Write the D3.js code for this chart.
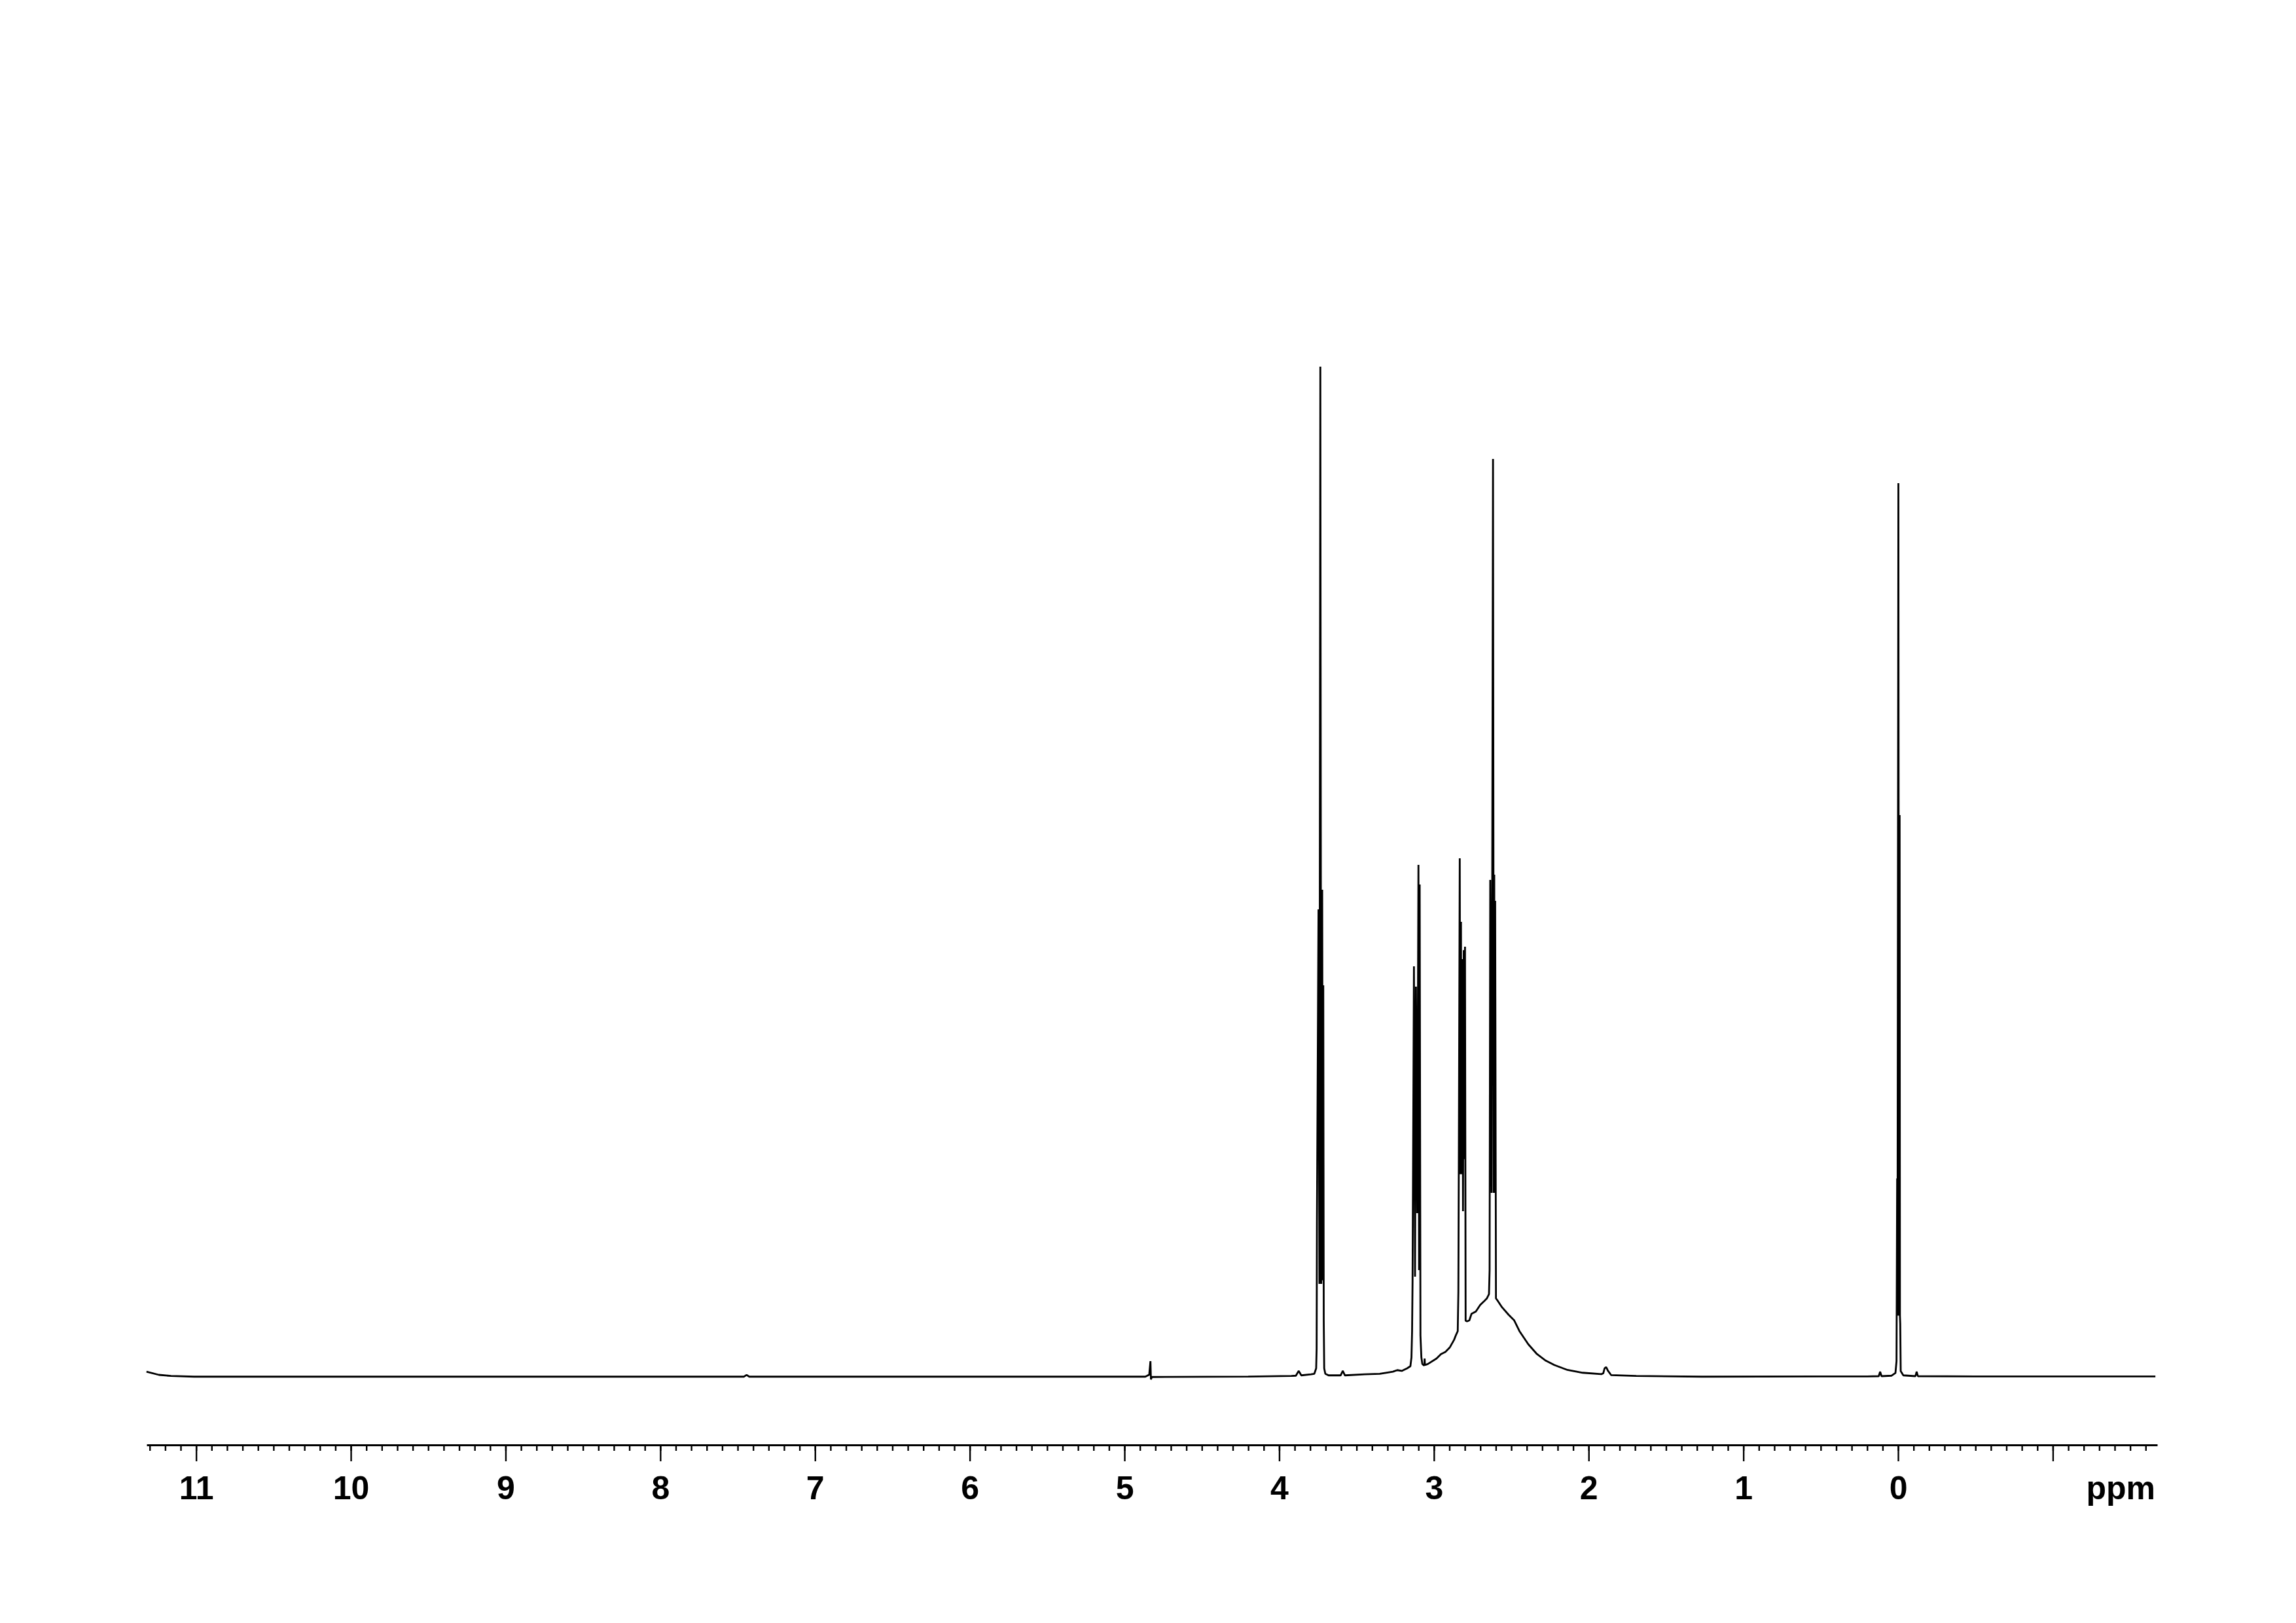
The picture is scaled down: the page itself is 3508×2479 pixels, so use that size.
<!DOCTYPE html>
<html>
<head>
<meta charset="utf-8">
<script src="https://cdn.jsdelivr.net/npm/d3@7"></script>
<style>
  html, body { margin: 0; padding: 0; background: #ffffff; }
  svg { display: block; }
</style>
</head>
<body>
<svg id="chart" width="3508" height="2479"></svg>
<script>
// ---- Data: [chemical shift (ppm), relative intensity (% of tallest line)] ----
const segBaselineLeft = [
  [11.321, 0.45], [11.240, 0.13], [11.162, 0.02], [11.014, -0.05], [9.000, -0.05],
  [7.460, -0.05], [7.442, 0.12], [7.425, -0.05], [4.865, -0.05], [4.840, 0.15],
  [4.832, 1.49], [4.829, -0.32], [4.823, -0.08], [4.200, -0.04], [3.921, 0.02],
  [3.892, 0.05], [3.874, 0.52], [3.857, 0.08], [3.794, 0.18], [3.773, 0.24]
];
const segMultipletA = [
  [3.761, 0.78], [3.758, 2.72], [3.756, 15.26], [3.746, 46.24], [3.740, 9.14],
  [3.734, 100.0], [3.728, 9.14], [3.722, 48.18], [3.718, 9.5], [3.715, 38.72],
  [3.712, 5.53], [3.709, 0.78], [3.702, 0.24], [3.681, 0.08]
];
const segBetweenAB = [
  [3.603, 0.08], [3.589, 0.52], [3.575, 0.08], [3.448, 0.18], [3.350, 0.24],
  [3.265, 0.45], [3.237, 0.60], [3.208, 0.52], [3.173, 0.78], [3.152, 0.99]
];
const segMultipletB = [
  [3.145, 1.86], [3.141, 4.47], [3.138, 9.40], [3.129, 40.60], [3.122, 9.86],
  [3.116, 38.59], [3.108, 16.15], [3.100, 50.65], [3.096, 10.51], [3.092, 48.70],
  [3.087, 4.02], [3.081, 1.86], [3.075, 1.21], [3.062, 1.05], [3.060, 1.75], [3.058, 1.10]
];
const segBetweenBC = [
  [3.039, 1.21], [2.983, 1.75], [2.954, 2.19], [2.926, 2.40], [2.898, 2.83],
  [2.870, 3.59], [2.856, 4.13]
];
const segMultipletC = [
  [2.846, 4.46], [2.842, 8.37], [2.839, 21.53], [2.833, 51.30], [2.829, 20.0],
  [2.825, 45.01], [2.822, 20.0], [2.816, 41.31], [2.812, 16.34], [2.807, 42.2],
  [2.803, 21.5], [2.799, 42.54], [2.795, 5.5], [2.786, 5.43]
];
const segBetweenCD = [
  [2.771, 5.53], [2.757, 6.18], [2.729, 6.40], [2.701, 7.05], [2.679, 7.37],
  [2.658, 7.70], [2.644, 8.13]
];
const segMultipletD = [
  [2.640, 10.51], [2.636, 49.16], [2.627, 18.16], [2.618, 90.86], [2.613, 18.16],
  [2.610, 49.68], [2.607, 18.16], [2.604, 47.08], [2.599, 7.70], [2.588, 7.48]
];
const segTail = [
  [2.560, 6.83], [2.517, 6.08], [2.482, 5.55], [2.447, 4.46], [2.390, 3.16],
  [2.334, 2.19], [2.277, 1.54], [2.221, 1.10], [2.137, 0.62], [2.038, 0.34],
  [1.918, 0.20], [1.905, 0.30], [1.897, 0.78], [1.886, 0.89], [1.876, 0.56],
  [1.854, 0.10], [1.692, 0.02], [1.269, -0.05], [0.500, -0.03]
];
const segTMS = [
  [0.200, -0.02], [0.125, 0.0], [0.116, 0.45], [0.107, 0.0], [0.042, 0.05],
  [0.017, 0.32], [0.010, 1.5], [0.006, 19.58], [0.004, 6.0], [-0.002, 88.46],
  [-0.006, 6.0], [-0.010, 55.58], [-0.012, 6.0], [-0.014, 5.19], [-0.017, 0.5],
  [-0.034, 0.08], [-0.112, 0.0], [-0.120, 0.45], [-0.128, 0.0], [-0.500, -0.02],
  [-1.663, -0.02]
];

const majorTicks = [11, 10, 9, 8, 7, 6, 5, 4, 3, 2, 1, 0, -1];
const tickLabels = ["11", "10", "9", "8", "7", "6", "5", "4", "3", "2", "1", "0", ""];
const minorTicks = d3.range(113, -17, -1).map(v => v / 10);
const axisUnit = "ppm";

// ---- Drawing ----
const svg = d3.select("#chart");
svg.append("rect").attr("width", 3508).attr("height", 2479).attr("fill", "#ffffff");

const x = d3.scaleLinear().domain([11.32, -1.675]).range([224, 3296]);
const y = d3.scaleLinear().domain([0, 100]).range([2102, 560]);

const spectrum = [].concat(segBaselineLeft, segMultipletA, segBetweenAB, segMultipletB,
  segBetweenBC, segMultipletC, segBetweenCD, segMultipletD, segTail, segTMS);

svg.append("path")
  .datum(spectrum)
  .attr("d", d3.line().x(d => x(d[0])).y(d => y(d[1])))
  .attr("fill", "none")
  .attr("stroke", "#000")
  .attr("stroke-width", 2.8)
  .attr("stroke-linejoin", "bevel");

const axisY = 2207;

// minor ticks + axis line
const gMinor = svg.append("g").attr("transform", `translate(0,${axisY})`)
  .call(d3.axisBottom(x).tickValues(minorTicks).tickSize(9).tickSizeOuter(0).tickFormat(""));
gMinor.select(".domain").attr("stroke", "#000").attr("stroke-width", 3);
gMinor.selectAll(".tick line").attr("stroke", "#000").attr("stroke-width", 2.4);

// major ticks + labels
const gMajor = svg.append("g").attr("transform", `translate(0,${axisY})`)
  .call(d3.axisBottom(x).tickValues(majorTicks).tickSize(25).tickSizeOuter(0)
    .tickFormat((d, i) => tickLabels[i]));
gMajor.select(".domain").remove();
gMajor.selectAll(".tick line").attr("stroke", "#000").attr("stroke-width", 2.4);
gMajor.selectAll(".tick text")
  .attr("y", 83).attr("dy", null)
  .attr("fill", "#000")
  .style("font-family", "'Liberation Sans', Arial, Helvetica, sans-serif")
  .style("font-size", "50px")
  .style("font-weight", "bold");

gMajor.append("text")
  .attr("x", 3293).attr("y", 83)
  .attr("text-anchor", "end")
  .attr("fill", "#000")
  .style("font-family", "'Liberation Sans', Arial, Helvetica, sans-serif")
  .style("font-size", "50px")
  .style("font-weight", "bold")
  .text(axisUnit);
</script>
</body>
</html>
